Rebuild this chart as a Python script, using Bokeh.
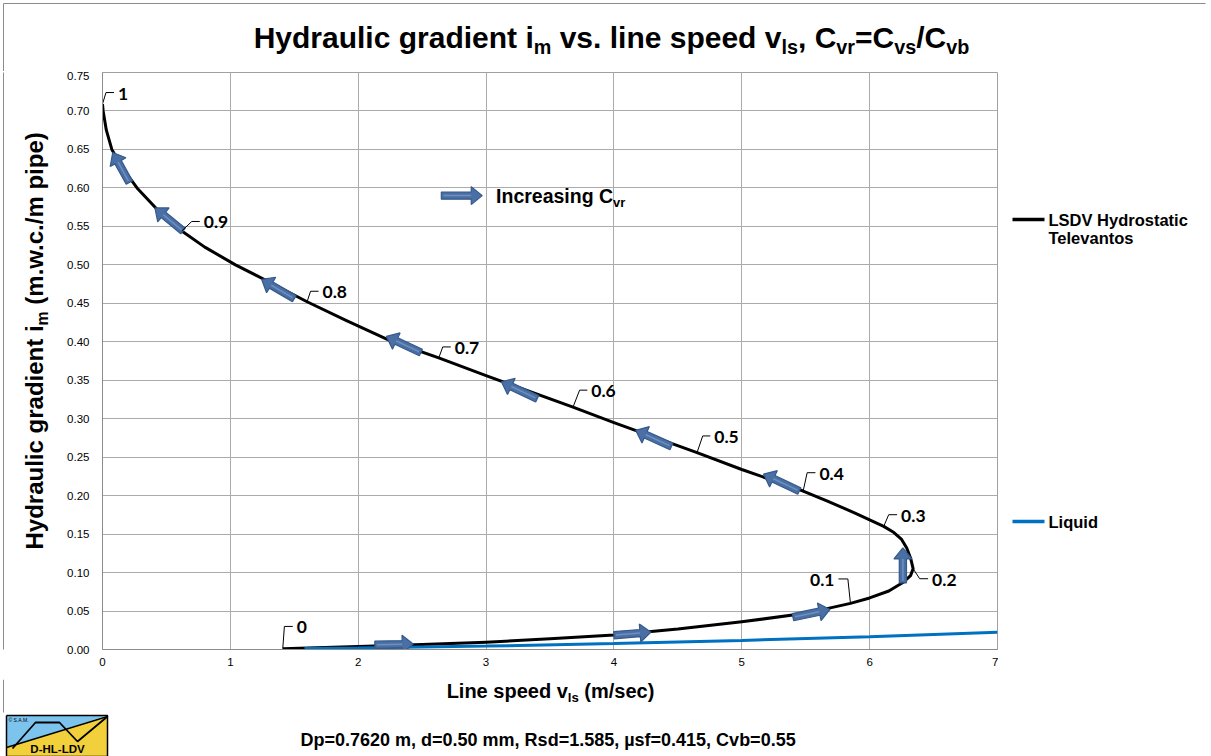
import math
from bokeh.plotting import figure
from bokeh.layouts import column, row
from bokeh.models import Range1d, FixedTicker, Label, NumeralTickFormatter
from bokeh.embed import file_html
from bokeh.resources import INLINE

# ---------------- data ----------------
cvr = [0.00, 0.01, 0.02, 0.03, 0.04, 0.05, 0.06, 0.07, 0.08, 0.10,
       0.11, 0.13, 0.15, 0.17, 0.20, 0.22, 0.24, 0.26, 0.28, 0.30,
       0.33, 0.38, 0.40, 0.45, 0.50, 0.57, 0.60, 0.67, 0.70, 0.73,
       0.77, 0.80, 0.83, 0.85, 0.88, 0.90, 0.92, 0.94, 0.96, 0.97,
       0.98, 0.99, 1.00]
v_ls = [1.41, 2.00, 2.50, 3.00, 3.50, 4.00, 4.50, 5.00, 5.50, 5.85,
        6.00, 6.15, 6.26, 6.32, 6.34, 6.32, 6.29, 6.25, 6.19, 6.11,
        5.89, 5.67, 5.48, 5.00, 4.65, 4.00, 3.68, 3.00, 2.63, 2.27,
        1.90, 1.60, 1.30, 1.04, 0.80, 0.62, 0.45, 0.27, 0.16, 0.073,
        0.03, 0.005, 0.00]
i_m = [0.001, 0.004, 0.0065, 0.0095, 0.014, 0.019, 0.0265, 0.036, 0.047, 0.060,
       0.067, 0.076, 0.087, 0.096, 0.105, 0.119, 0.132, 0.143, 0.152, 0.160,
       0.177, 0.193, 0.206, 0.234, 0.256, 0.295, 0.315, 0.356, 0.379, 0.400,
       0.428, 0.452, 0.478, 0.500, 0.523, 0.544, 0.568, 0.600, 0.625, 0.650,
       0.675, 0.700, 0.709]

liquid_v = [1.58, 2.0, 3.0, 4.0, 5.0, 6.0, 7.0]
liquid_i = [0.0013, 0.0020, 0.0044, 0.0078, 0.0118, 0.0167, 0.0225]

label_cvr = [0.0, 0.1, 0.2, 0.3, 0.4, 0.5, 0.6, 0.7, 0.8, 0.9, 1.0]
label_text = ["0", "0.1", "0.2", "0.3", "0.4", "0.5", "0.6", "0.7", "0.8", "0.9", "1"]

# direction arrows along the curve (tail -> head, data units)
arrow_tail_v = [2.13, 4.00, 5.40, 6.26, 5.45, 4.45, 3.40, 2.49, 1.50, 0.63, 0.21]
arrow_tail_i = [0.0062, 0.0186, 0.042, 0.0867, 0.206, 0.264, 0.326, 0.386, 0.456, 0.544, 0.607]
arrow_head_v = [2.43, 4.29, 5.69, 6.26, 5.17, 4.17, 3.12, 2.22, 1.245, 0.41, 0.08]
arrow_head_i = [0.0072, 0.0225, 0.052, 0.132, 0.228, 0.285, 0.348, 0.407, 0.481, 0.574, 0.646]
key_arrow = [2.65, 0.590, 2.97, 0.590]

x_ticks = [0, 1, 2, 3, 4, 5, 6, 7]
y_ticks = [0.0, 0.05, 0.10, 0.15, 0.20, 0.25, 0.30, 0.35, 0.40, 0.45, 0.50, 0.55, 0.60, 0.65, 0.70, 0.75]

title_runs = [("Hydraulic gradient i", 0), ("m", 1), (" vs. line speed v", 0), ("ls", 1),
              (", C", 0), ("vr", 1), ("=C", 0), ("vs", 1), ("/C", 0), ("vb", 1)]
xlabel_runs = [("Line speed v", 0), ("ls", 1), (" (m/sec)", 0)]
ylabel_runs = [("Hydraulic gradient i", 0), ("m", 1), (" (m.w.c./m pipe)", 0)]
note_runs = [("Dp=0.7620 m, d=0.50 mm, Rsd=1.585, \u00b5sf=0.415, Cvb=0.55", 0)]
key_runs = [("Increasing C", 0), ("vr", 1)]
legend_names = ["LSDV Hydrostatic", "Televantos", "Liquid"]

# ---------------- layout geometry (page pixels) ----------------
TOTAL_W, TOTAL_H = 1210, 756
TITLE_H = 71
LEFT_W = 64
MAIN_W, MAIN_H = 934, 608
BL, BR, BT, BB = 37, 1, 1, 30
RIGHT_W = TOTAL_W - LEFT_W - MAIN_W
BOTTOM_H = TOTAL_H - TITLE_H - MAIN_H
FW, FH = MAIN_W - BL - BR, MAIN_H - BT - BB

XMIN, XMAX, YMIN, YMAX = 0.0, 7.0, 0.0, 0.75
OX, OY = LEFT_W + BL, TITLE_H + BT + FH      # page px of data origin
SX = FW / (XMAX - XMIN)
SY = FH / (YMAX - YMIN)


def dx(X):
    return XMIN + (X - OX) / SX


def dy(Y):
    return YMIN + (OY - Y) / SY


def px(x):
    return OX + (x - XMIN) * SX


def py(y):
    return OY - (y - YMIN) * SY


# ---------------- main plot ----------------
p = figure(width=MAIN_W, height=MAIN_H,
           x_range=Range1d(XMIN, XMAX), y_range=Range1d(YMIN, YMAX),
           output_backend="svg", toolbar_location=None,
           min_border_left=BL, min_border_right=BR, min_border_top=BT, min_border_bottom=BB,
           background_fill_color="white", border_fill_color="white")

p.outline_line_color = "#a0a0a0"
p.xgrid.ticker = FixedTicker(ticks=x_ticks)
p.ygrid.ticker = FixedTicker(ticks=y_ticks)
for g in (p.xgrid[0], p.ygrid[0]):
    g.grid_line_color = "#ababab"
    g.grid_line_width = 1

p.xaxis.ticker = FixedTicker(ticks=x_ticks)
p.yaxis.ticker = FixedTicker(ticks=y_ticks)
p.yaxis.formatter = NumeralTickFormatter(format="0.00")
for ax in (p.xaxis[0], p.yaxis[0]):
    ax.major_tick_line_color = None
    ax.minor_tick_line_color = None
    ax.major_tick_out = 0
    ax.major_tick_in = 0
    ax.axis_line_color = "#8c8c8c"
    ax.major_label_text_font = "Liberation Sans"
    ax.major_label_text_font_size = "11.5px"
    ax.major_label_text_color = "black"
p.xaxis.major_label_standoff = 8
p.yaxis.major_label_standoff = 13

r_curve = p.line(v_ls, i_m, line_color="black", line_width=3, line_join="round")
r_liq = p.line(liquid_v, liquid_i, line_color="#0070c0", line_width=3)


def block_arrow(x0, y0, x1, y1, sw=3.6, hw=9.0, hl=11.0):
    a0, b0, a1, b1 = px(x0), py(y0), px(x1), py(y1)
    L = math.hypot(a1 - a0, b1 - b0)
    ux, uy = (a1 - a0) / L, (b1 - b0) / L
    nx, ny = -uy, ux
    bx, by = a1 - ux * hl, b1 - uy * hl
    pts = [(a0 + nx * sw, b0 + ny * sw), (bx + nx * sw, by + ny * sw),
           (bx + nx * hw, by + ny * hw), (a1, b1),
           (bx - nx * hw, by - ny * hw), (bx - nx * sw, by - ny * sw),
           (a0 - nx * sw, b0 - ny * sw)]
    stripe = ([dx(a0 + ux * 2), dx(bx)], [dy(b0 + uy * 2), dy(by)])
    return [dx(a) for a, b in pts], [dy(b) for a, b in pts], stripe


axs, ays, sxs, sys_ = [], [], [], []
all_arrows = list(zip(arrow_tail_v, arrow_tail_i, arrow_head_v, arrow_head_i)) + [tuple(key_arrow)]
for (x0, y0, x1, y1) in all_arrows:
    xs, ys, st = block_arrow(x0, y0, x1, y1)
    axs.append(xs)
    ays.append(ys)
    sxs.append(st[0])
    sys_.append(st[1])
p.patches(axs, ays, fill_color="#4a6fa5", line_color="#35598a", line_width=1.2)
p.multi_line(sxs, sys_, line_color="#6f8fbf", line_width=1.5)

# data labels with leaders (px offsets: up-segment dx, dy, horizontal segment)
lead = {
    "0": (1.6, -22.3, 8.4), "0.1": (-2.6, -24.4, -9.4), "0.2": (6.6, 10.0, 8.4),
    "0.3": (5.0, -11.7, 8.4), "0.4": (4.0, -18.3, 8.3), "0.5": (5.7, -16.6, 7.6),
    "0.6": (6.6, -17.0, 7.7), "0.7": (4.0, -11.0, 8.0), "0.8": (3.5, -10.5, 8.0),
    "0.9": (10.0, -9.5, 8.0), "1": (3.5, -11.5, 8.0),
}
lxs, lys = [], []
for c, t in zip(label_cvr, label_text):
    k = min(range(len(cvr)), key=lambda j: abs(cvr[j] - c))
    a0, b0 = px(v_ls[k]), py(i_m[k])
    d1x, d1y, h = lead[t]
    a1, b1 = a0 + d1x, b0 + d1y
    a2 = a1 + h
    lxs.append([dx(a0), dx(a1), dx(a2)])
    lys.append([dy(b0), dy(b1), dy(b1)])
    if h >= 0:
        tx, al = a2 + 4, "left"
    else:
        tx, al = a2 - 4, "right"
    p.add_layout(Label(x=dx(tx), y=dy(b1 + 1), text=t, text_font="Lato",
                       text_font_style="bold", text_font_size="17.5px",
                       text_baseline="middle", text_align=al, text_color="black"))
p.multi_line(lxs, lys, line_color="black", line_width=1)

# ---------------- rich text helper (Arial Bold metrics) ----------------
AW = {' ': 278, '!': 333, '(': 333, ')': 333, ',': 278, '-': 333, '.': 278, '/': 278, '=': 584,
      'A': 722, 'B': 722, 'C': 722, 'D': 722, 'E': 667, 'F': 611, 'G': 778, 'H': 722, 'I': 278,
      'J': 556, 'K': 722, 'L': 611, 'M': 833, 'N': 722, 'O': 778, 'P': 667, 'Q': 778, 'R': 722,
      'S': 667, 'T': 611, 'U': 722, 'V': 667, 'W': 944, 'X': 667, 'Y': 667, 'Z': 611,
      'a': 556, 'b': 611, 'c': 556, 'd': 611, 'e': 556, 'f': 333, 'g': 611, 'h': 611, 'i': 278,
      'j': 278, 'k': 556, 'l': 278, 'm': 889, 'n': 611, 'o': 611, 'p': 611, 'q': 611, 'r': 389,
      's': 556, 't': 333, 'u': 611, 'v': 556, 'w': 778, 'x': 556, 'y': 556, 'z': 500, '\u00b5': 611}
for ch in "0123456789":
    AW[ch] = 556
SUB = 0.66
MID = 0.3465   # distance from baseline to the "middle" anchor, in em


def tw(s, size):
    return sum(AW.get(ch, 556) for ch in s) * size / 1000.0


def rich(fig, runs, X, Y, size, tox, toy, align="left", vertical=False):
    """Place runs of text (with subscripts) with baseline at page X,Y; tox/toy map page->fig coords."""
    widths = [tw(t, size * (SUB if s else 1)) for t, s in runs]
    total = sum(widths)
    pos = X if not vertical else Y
    if align == "center":
        pos = pos - total / 2 if not vertical else pos + total / 2
    for (t, s), w in zip(runs, widths):
        fs = size * SUB if s else size
        body = t.lstrip(" ")
        lead_w = tw(t[:len(t) - len(body)], fs)
        off = (size * 0.22 if s else 0) - fs * MID   # baseline shift minus middle offset
        if not vertical:
            lx, ly, ang = pos + lead_w, Y + off, 0
            pos += w
        else:
            lx, ly, ang = X + off, pos - lead_w, math.pi / 2
            pos -= w
        fig.add_layout(Label(x=tox(lx), y=toy(ly), text=body, angle=ang,
                             text_font="Liberation Sans", text_font_style="bold",
                             text_font_size="%.1fpx" % fs, text_align="left",
                             text_baseline="middle", text_color="black"))


rich(p, key_runs, 495, 202, 19.5, dx, dy)


# ---------------- surrounding strips (text areas) ----------------
def strip(w, h, bt=0, bb=0):
    # frame spans canvas rows bt .. h-bb; y runs downward in canvas pixels
    f = figure(width=w, height=h, x_range=Range1d(0, w), y_range=Range1d(h - bb, bt),
               x_axis_type=None, y_axis_type=None, output_backend="svg",
               toolbar_location=None, min_border=0, min_border_top=bt, min_border_bottom=bb,
               outline_line_color=None,
               background_fill_color="white", border_fill_color="white")
    f.xgrid.visible = False
    f.ygrid.visible = False
    return f


BORDER = "#8c8c8c"

# title strip (page origin 0,0)
top = strip(TOTAL_W, TITLE_H)
top.line([3, 3, TOTAL_W - 5], [TITLE_H, 3, 3], line_color=BORDER, line_width=1)
rich(top, title_runs, 611, 47, 30, lambda X: X, lambda Y: Y, align="center")

# left strip (page origin 0, TITLE_H); frame aligned with the main frame
left = strip(LEFT_W, MAIN_H, BT, BB)
left.line([3, 3], [0, MAIN_H], line_color=BORDER, line_width=1)
rich(left, ylabel_runs, 42, 549, 24, lambda X: X, lambda Y: Y - TITLE_H, vertical=True)

# right strip (legend), page origin (LEFT_W + MAIN_W, TITLE_H)
rx0 = LEFT_W + MAIN_W
right = strip(RIGHT_W, MAIN_H, BT, BB)
right.line([1012 - rx0, 1044 - rx0], [219 - TITLE_H, 219 - TITLE_H], line_color="black", line_width=3.5)
right.line([1012 - rx0, 1044 - rx0], [521 - TITLE_H, 521 - TITLE_H], line_color="#0070c0", line_width=3.5)
for name, yc in zip(legend_names, [219, 237, 521]):
    right.add_layout(Label(x=1048 - rx0, y=yc - TITLE_H, text=name, text_font="Liberation Sans",
                           text_font_style="bold", text_font_size="16.5px",
                           text_baseline="middle", text_color="black"))

# bottom strip, page origin (0, TITLE_H + MAIN_H)
by0 = TITLE_H + MAIN_H
bottom = strip(TOTAL_W, BOTTOM_H)
bottom.line([3, 3], [0, 712 - by0], line_color=BORDER, line_width=1)
rich(bottom, xlabel_runs, 550, 697, 20, lambda X: X, lambda Y: Y - by0, align="center")
rich(bottom, note_runs, 300, 746, 18, lambda X: X, lambda Y: Y - by0)

# logo (S.A.M. D-HL-LDV badge)
lg_y = [715 - by0, 756 - by0]
bottom.patch([6, 107, 6], [lg_y[0], lg_y[0], 747 - by0], fill_color="#7cc4ee", line_color=None)
bottom.patch([6, 107, 107, 6], [747 - by0, 716 - by0, lg_y[1], lg_y[1]], fill_color="#f2d03c",
             line_color=None)
bottom.line([6, 107], [747 - by0, 716 - by0], line_color="black", line_width=1.5)
bottom.line([12, 35, 59, 77, 107], [748 - by0, 722 - by0, 722 - by0, 741 - by0, 716 - by0],
            line_color="black", line_width=1.8)
bottom.line([6, 107, 107, 6, 6], [lg_y[0], lg_y[0], lg_y[1], lg_y[1], lg_y[0]],
            line_color="black", line_width=1.5)
bottom.add_layout(Label(x=8, y=719 - by0, text="\u00a9 S.A.M.", text_font="Liberation Sans",
                        text_font_size="5px", text_baseline="middle", text_color="black"))
bottom.add_layout(Label(x=57, y=748 - by0, text="D-HL-LDV", text_font="Liberation Sans",
                        text_font_style="bold", text_font_size="11.5px", text_align="center",
                        text_baseline="middle", text_color="black"))

layout = column(top, row(left, p, right), bottom)
open("out.html", "w").write(file_html(layout, INLINE))
